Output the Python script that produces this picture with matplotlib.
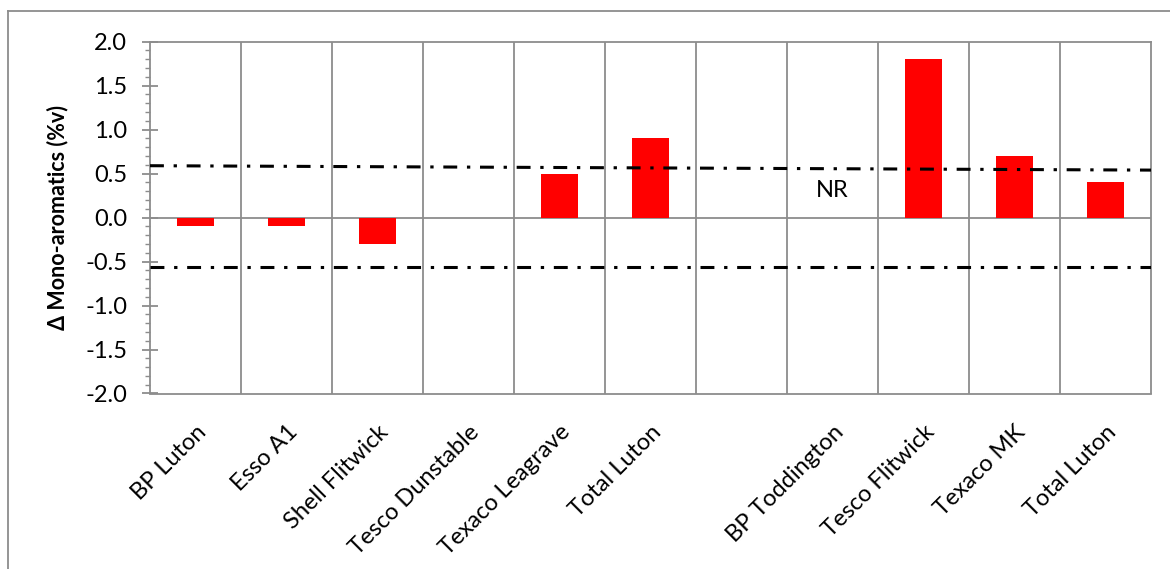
import numpy as np
import matplotlib
matplotlib.use("Agg")
import matplotlib.pyplot as plt
from matplotlib.lines import Line2D
from matplotlib.ticker import MultipleLocator, FixedLocator

plt.rcParams['font.family'] = ['Lato', 'DejaVu Sans']
plt.rcParams['lines.scale_dashes'] = False

categories = ["BP Luton", "Esso A1", "Shell Flitwick", "Tesco Dunstable",
              "Texaco Leagrave", "Total Luton", "", "BP Toddington",
              "Tesco Flitwick", "Texaco MK", "Total Luton"]
values = [-0.1, -0.1, -0.3, 0.0, 0.5, 0.9, np.nan, np.nan, 1.8, 0.7, 0.4]
upper_limit = [0.59, 0.54]   # left end, right end
lower_limit = [-0.565, -0.565]
nr_label = "NR"
nr_index = 7
nr_y = 0.31
ylabel = "Δ Mono-aromatics (%v)"

W, H = 1170, 569
fig = plt.figure(figsize=(W / 100, H / 100), dpi=100)
ax = fig.add_axes([150 / W, 1 - 393.5 / H, (1151 - 150) / W, (393.5 - 41.7) / H])

grey = "#8c8c8c"
fs = 17
x = np.arange(len(categories))
ax.bar(x, values, width=0.4, color="#ff0000", zorder=3)

ax.set_xlim(-0.5, len(categories) - 0.5)
ax.set_ylim(-2.0, 2.0)

# limit lines
xe = [-0.5, len(categories) - 0.5]
for lim in (upper_limit, lower_limit):
    ax.plot(xe, lim, color="black", lw=2.2,
            linestyle=(0, (10, 7.0, 2.4, 7.0)), zorder=4, solid_capstyle='butt')

ax.axhline(0, color=grey, lw=1.3, zorder=2)

ax.text(nr_index, nr_y, nr_label, ha="center", va="center", fontsize=fs)

# y axis ticks
ax.yaxis.set_major_locator(MultipleLocator(0.5))
ax.yaxis.set_minor_locator(MultipleLocator(0.1))
ax.yaxis.set_major_formatter(matplotlib.ticker.FormatStrFormatter("%.1f"))
ax.tick_params(axis="y", which="major", direction="inout", length=11, width=1.3,
               color=grey, labelsize=fs, pad=11)
ax.tick_params(axis="y", which="minor", direction="out", length=3.6, width=1.0,
               color=grey)

# x axis: labels at centres, grid at boundaries
ax.set_xticks(x)
ax.set_xticklabels(categories, rotation=45, ha="right", rotation_mode="anchor",
                   fontsize=fs)
ax.tick_params(axis="x", which="major", length=0, pad=20)
ax.xaxis.set_minor_locator(FixedLocator(np.arange(0.5, len(categories) - 0.5, 1)))
ax.tick_params(axis="x", which="minor", length=0)
ax.grid(axis="x", which="minor", color=grey, lw=1.3, zorder=1)

for s in ax.spines.values():
    s.set_color(grey)
    s.set_linewidth(1.3)

ax.set_ylabel(ylabel, fontsize=15.5, fontweight="bold", labelpad=12)

# outer chart border (left and top edges visible)
fig.add_artist(Line2D([8 / W, 8 / W], [0, 1 - 11 / H], color=grey, lw=1.3,
                      transform=fig.transFigure))
fig.add_artist(Line2D([8 / W, 1], [1 - 11 / H, 1 - 11 / H], color=grey, lw=1.3,
                      transform=fig.transFigure))

fig.savefig("out.png", dpi=100, facecolor="white")
